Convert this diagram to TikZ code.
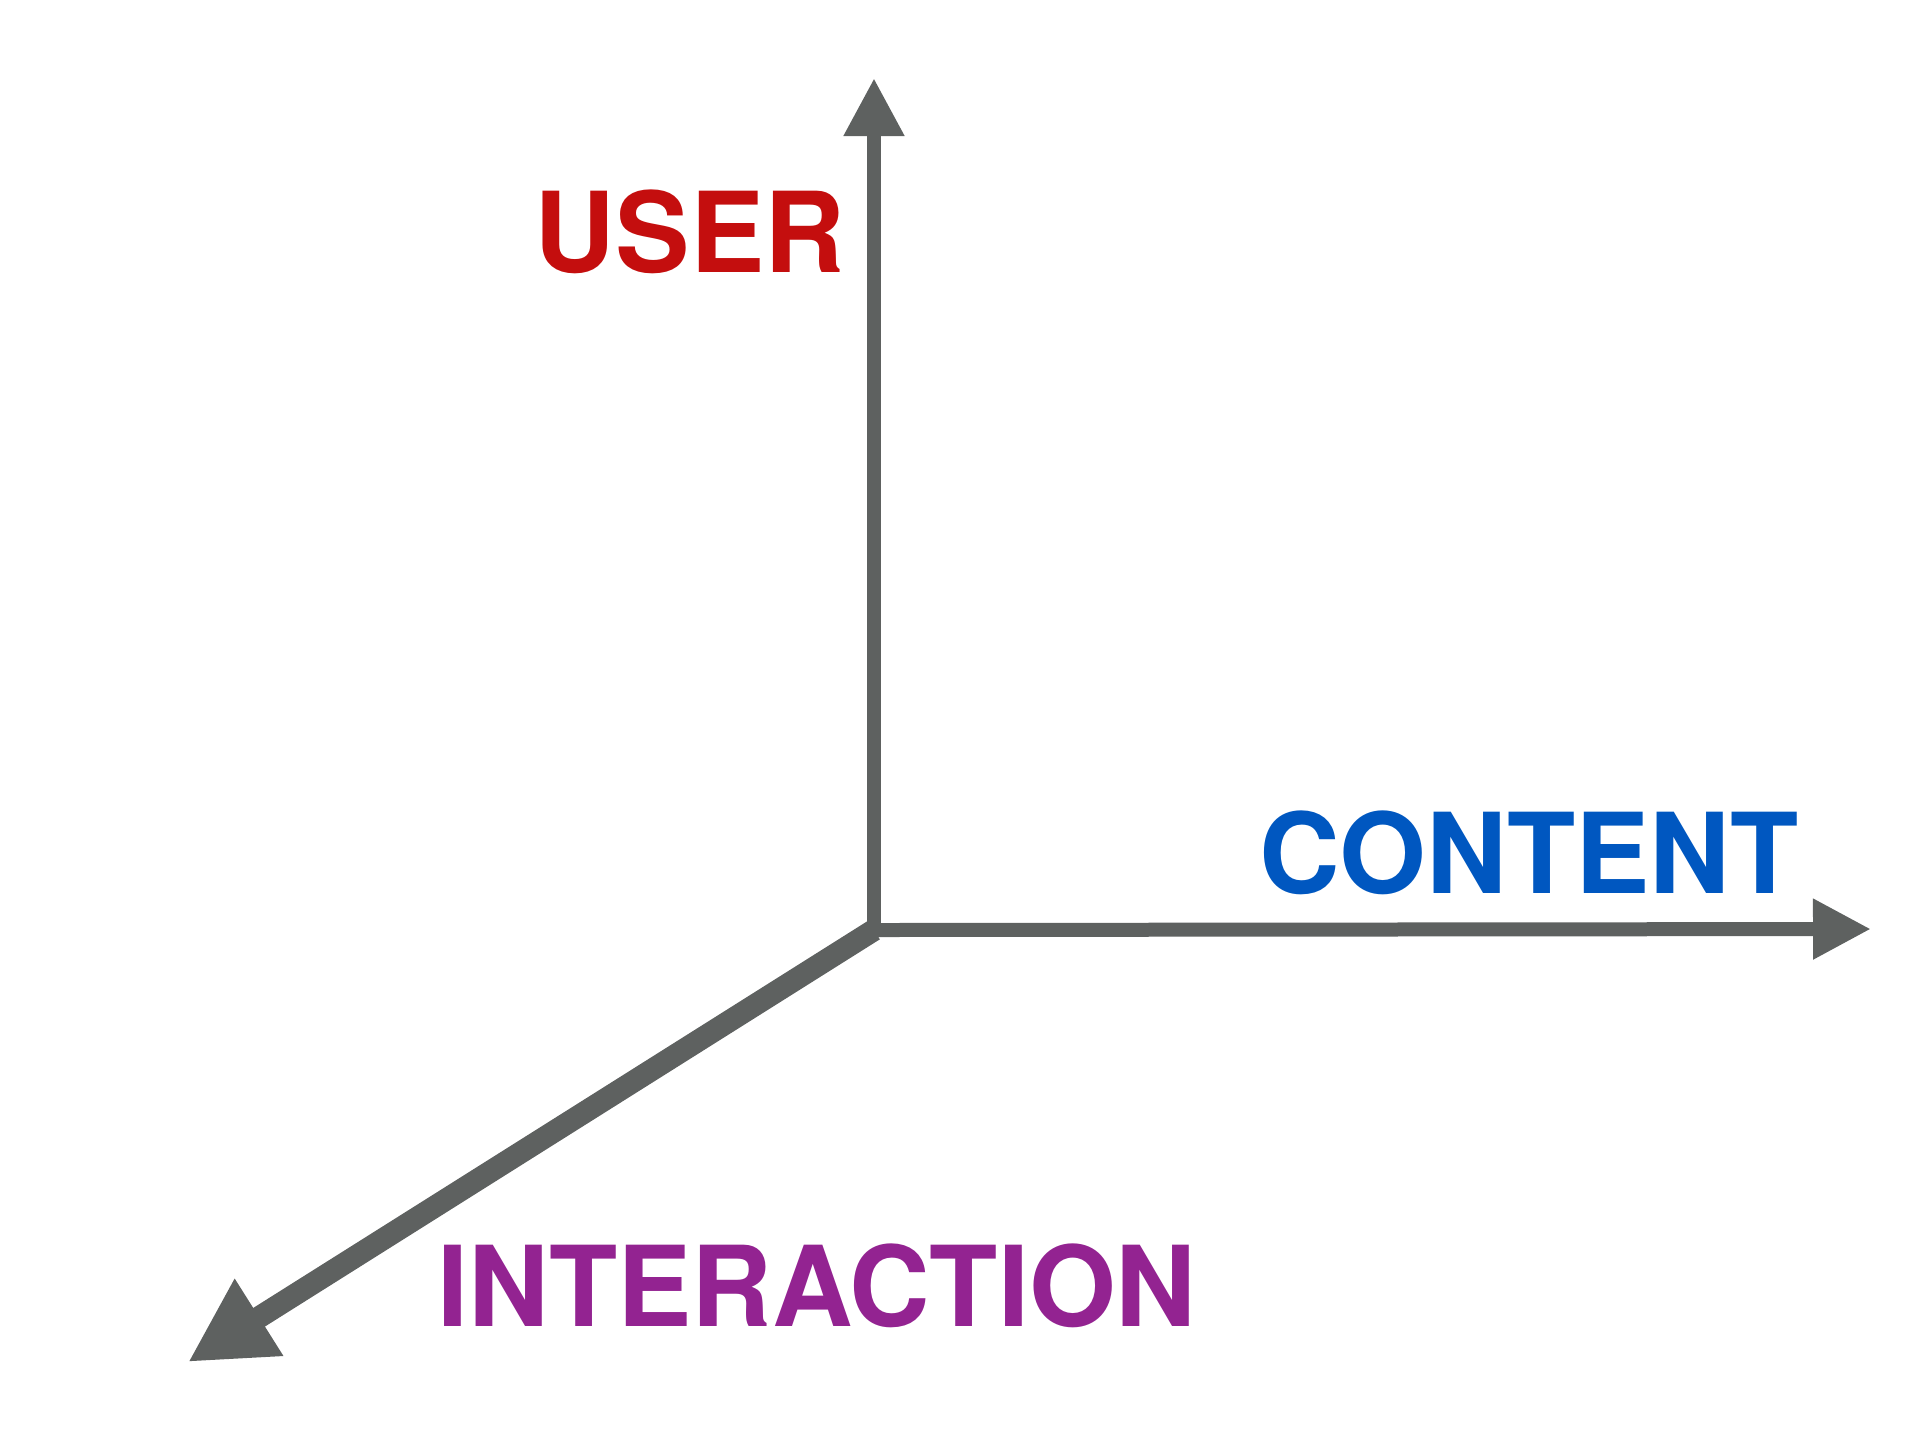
\documentclass[tikz,border=0pt]{standalone}
\usepackage{fontspec}
\setmainfont{TeX Gyre Heros}
\usetikzlibrary{arrows.meta}
\definecolor{axisgray}{RGB}{94,97,96}
\definecolor{userred}{RGB}{196,14,14}
\definecolor{contentblue}{RGB}{0,87,192}
\definecolor{interpurple}{RGB}{147,35,145}
\tikzset{
  axis/.style={axisgray, line width=3.5pt, -{Triangle[length=14.5pt, width=14.25pt]}},
  axislabel/.style={font=\fontsize{27.9}{30}\selectfont\bfseries, inner sep=0pt, anchor=center}
}
\begin{document}
\begin{tikzpicture}[x=0.25pt, y=-0.25pt]
  \useasboundingbox (0,0) rectangle (1920,1440);
  \coordinate (o) at (874,930);
  \coordinate (ytip) at (874,78);
  \coordinate (xtip) at (1871,929);
  \coordinate (ztip) at (188,1362);
  \draw[axis, line width=5.5pt, -{Triangle[length=21pt, width=21.25pt]}] (o) -- (ztip);
  \draw[axis] (o) -- (ytip);
  \draw[axis] (o) -- (xtip);
  \node[axislabel, text=userred] (user) at (690,232) {USER};
  \node[axislabel, text=contentblue] (content) at (1529,853) {CONTENT};
  \node[axislabel, text=interpurple] (interaction) at (817,1286) {INTERACTION};
\end{tikzpicture}
\end{document}
